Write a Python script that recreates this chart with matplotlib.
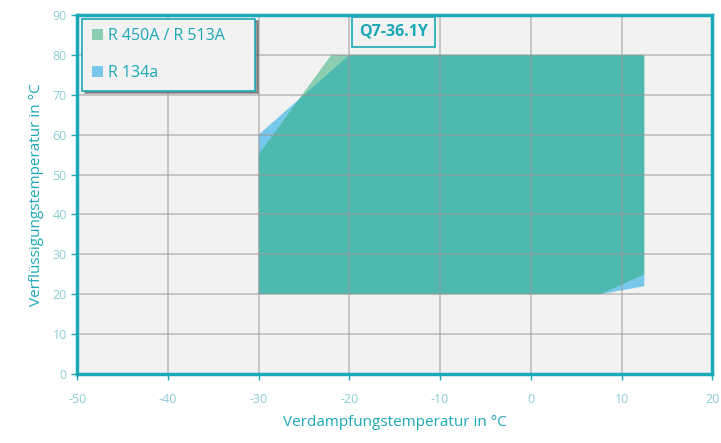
import matplotlib.pyplot as plt

# Einsatzgrenzen (Verdampfung / Verflüssigung in °C)
r450_x = [-30, -30, -22, 12.5, 12.5, 7.7]
r450_y = [20, 55, 80, 80, 25, 20]
r134_x = [-30, -30, -20, 12.5, 12.5, 7.7]
r134_y = [20, 60, 80, 80, 22, 20]

x_ticks = [-50, -40, -30, -20, -10, 0, 10, 20]
y_ticks = [0, 10, 20, 30, 40, 50, 60, 70, 80, 90]

teal = "#1ba8b8"
light_teal = "#8ccdd6"

plt.rcParams["font.family"] = ["Open Sans", "DejaVu Sans"]
plt.rcParams["axes.unicode_minus"] = False

fig = plt.figure(figsize=(7.21, 4.43), dpi=100)
ax = fig.add_axes([0.107, 0.156, 0.881, 0.81])
ax.set_facecolor("#f2f2f2")

ax.fill(r134_x, r134_y, color="#62c1e9", alpha=0.85, lw=0, label="R 134a", zorder=1)
ax.fill(r450_x, r450_y, color="#26ac74", alpha=0.5, lw=0, label="R 450A / R 513A", zorder=1.1)

ax.set_xlim(-50, 20)
ax.set_ylim(0, 90)
ax.set_xticks(x_ticks)
ax.set_yticks(y_ticks)
ax.grid(True, color="#9a9a9a", alpha=0.55, lw=1.3)

for s in ax.spines.values():
    s.set_color(teal)
    s.set_linewidth(2.5)
ax.tick_params(colors=teal, labelcolor=light_teal, labelsize=9, length=4, width=1)
ax.tick_params(axis="x", pad=10)

ax.set_xlabel("Verdampfungstemperatur in °C", color=teal, fontsize=11, labelpad=6)
ax.set_ylabel("Verflüssigungstemperatur in °C", color=teal, fontsize=11, labelpad=6)

handles, labels = ax.get_legend_handles_labels()
leg = ax.legend(handles[::-1], labels[::-1], loc="upper left",
                bbox_to_anchor=(0.008, 0.813, 0.272, 0.177), mode="expand",
                fontsize=11.5, labelspacing=1.3, handlelength=0.7, handleheight=0.7,
                handletextpad=0.3, borderpad=0.6, fancybox=False, shadow=True,
                facecolor="#f2f2f2", edgecolor=teal, framealpha=1, borderaxespad=0)
leg.get_frame().set_linewidth(1.2)
for t in leg.get_texts():
    t.set_color(teal)

ax.text(0.498, 0.953, "Q7-36.1Y", transform=ax.transAxes, ha="center", va="center",
        fontsize=11.5, fontweight="bold", color=teal,
        bbox=dict(boxstyle="square,pad=0.45", fc="#f2f2f2", ec=teal, lw=1.2), zorder=5)

fig.savefig("out.png", dpi=100)
